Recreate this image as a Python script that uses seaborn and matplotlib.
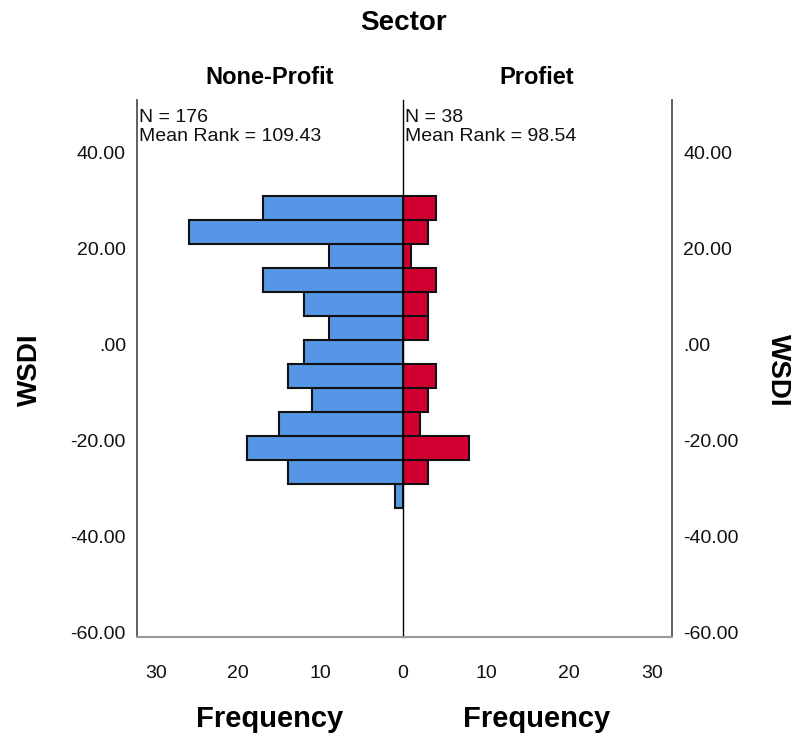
import numpy as np
import pandas as pd
import seaborn as sns
import matplotlib.pyplot as plt
from matplotlib.ticker import FuncFormatter

# WSDI bin edges (bottom to top) and frequency per bin
wsdi_edges = [-34, -29, -24, -19, -14, -9, -4, 1, 6, 11, 16, 21, 26, 31]
nonprofit_counts = [1, 14, 19, 15, 11, 14, 12, 9, 12, 17, 9, 26, 17]
profit_counts = [0, 3, 8, 2, 3, 4, 0, 3, 3, 4, 1, 3, 4]

groups = ["None-Profit", "Profiet"]
group_n = [176, 38]
mean_rank = [109.43, 98.54]
y_ticks = [-60, -40, -20, 0, 20, 40]
x_ticks_left = [30, 20, 10, 0]
x_ticks_right = [10, 20, 30]

BLUE = "#5596E6"
RED = "#D20032"

sns.set_style("white")
plt.rcParams['font.family'] = ['Liberation Sans', 'DejaVu Sans']
plt.rcParams['text.color'] = 'black'

W, H = 795, 740
fig = plt.figure(figsize=(W / 100, H / 100), dpi=100)

def box(x0, y0, x1, y1):
    # pixel box -> figure fraction
    return [x0 / W, 1 - y1 / H, (x1 - x0) / W, (y1 - y0) / H]

ax_l = fig.add_axes(box(137, 100, 403, 637))
ax_r = fig.add_axes(box(403, 100, 672, 637))

mids = [(a + b) / 2 for a, b in zip(wsdi_edges[:-1], wsdi_edges[1:])]
df_l = pd.DataFrame({"WSDI": mids, "count": nonprofit_counts})
df_r = pd.DataFrame({"WSDI": mids, "count": profit_counts})

sns.histplot(data=df_l, y="WSDI", weights="count", bins=wsdi_edges, ax=ax_l,
             color=BLUE, edgecolor="#111111", linewidth=1.5, alpha=1)
sns.histplot(data=df_r, y="WSDI", weights="count", bins=wsdi_edges, ax=ax_r,
             color=RED, edgecolor="#111111", linewidth=1.5, alpha=1)

fmt = FuncFormatter(lambda v, p: f"{v:.2f}".lstrip("0") if abs(v) < 1 else f"{v:.2f}")

for ax in (ax_l, ax_r):
    ax.set_ylim(-61, 51)
    ax.set_yticks(y_ticks)
    ax.yaxis.set_major_formatter(fmt)
    ax.set_ylabel("")
    ax.set_xlabel("")
    ax.tick_params(length=0, labelsize=14, colors="#111111")
    ax.tick_params(axis="x", pad=20)
    ax.tick_params(axis="y", pad=8)
    ax.spines["top"].set_visible(False)
    ax.spines["bottom"].set_color("#999999")
    ax.spines["bottom"].set_linewidth(1.5)

ax_l.set_xlim(32.3, 0)
ax_l.set_xticks(x_ticks_left)
ax_l.spines["left"].set_color("#555555")
ax_l.spines["left"].set_linewidth(1.3)
ax_l.spines["right"].set_visible(False)

# right panel is drawn last, so its left spine is the centre line
ax_r.patch.set_visible(False)
ax_r.set_xlim(0, 32.4)
ax_r.set_xticks(x_ticks_right)
ax_r.spines["left"].set_color("black")
ax_r.spines["left"].set_linewidth(1.0)
ax_r.spines["right"].set_color("#555555")
ax_r.spines["right"].set_linewidth(1.3)
ax_r.yaxis.tick_right()

for ax, n, mr in zip((ax_l, ax_r), group_n, mean_rank):
    ax.text(0.006, 0.983, f"N = {n}\nMean Rank = {mr:.2f}", transform=ax.transAxes,
            ha="left", va="top", fontsize=14, linespacing=1.12, color="#111111")

# titles and labels
fig.text(403 / W, 1 - 23 / H, "Sector", ha="center", va="center", fontsize=20, fontweight="bold")
fig.text(270 / W, 1 - 77 / H, groups[0], ha="center", va="center", fontsize=17, fontweight="bold")
fig.text(537 / W, 1 - 77 / H, groups[1], ha="center", va="center", fontsize=17, fontweight="bold")
fig.text(270 / W, 1 - 719 / H, "Frequency", ha="center", va="center", fontsize=21, fontweight="bold")
fig.text(537 / W, 1 - 719 / H, "Frequency", ha="center", va="center", fontsize=21, fontweight="bold")
fig.text(30 / W, 1 - 370 / H, "WSDI", ha="center", va="center", fontsize=20, fontweight="bold", rotation=90)
fig.text(778 / W, 1 - 370 / H, "WSDI", ha="center", va="center", fontsize=20, fontweight="bold", rotation=270)

fig.savefig("out.png", dpi=100)
